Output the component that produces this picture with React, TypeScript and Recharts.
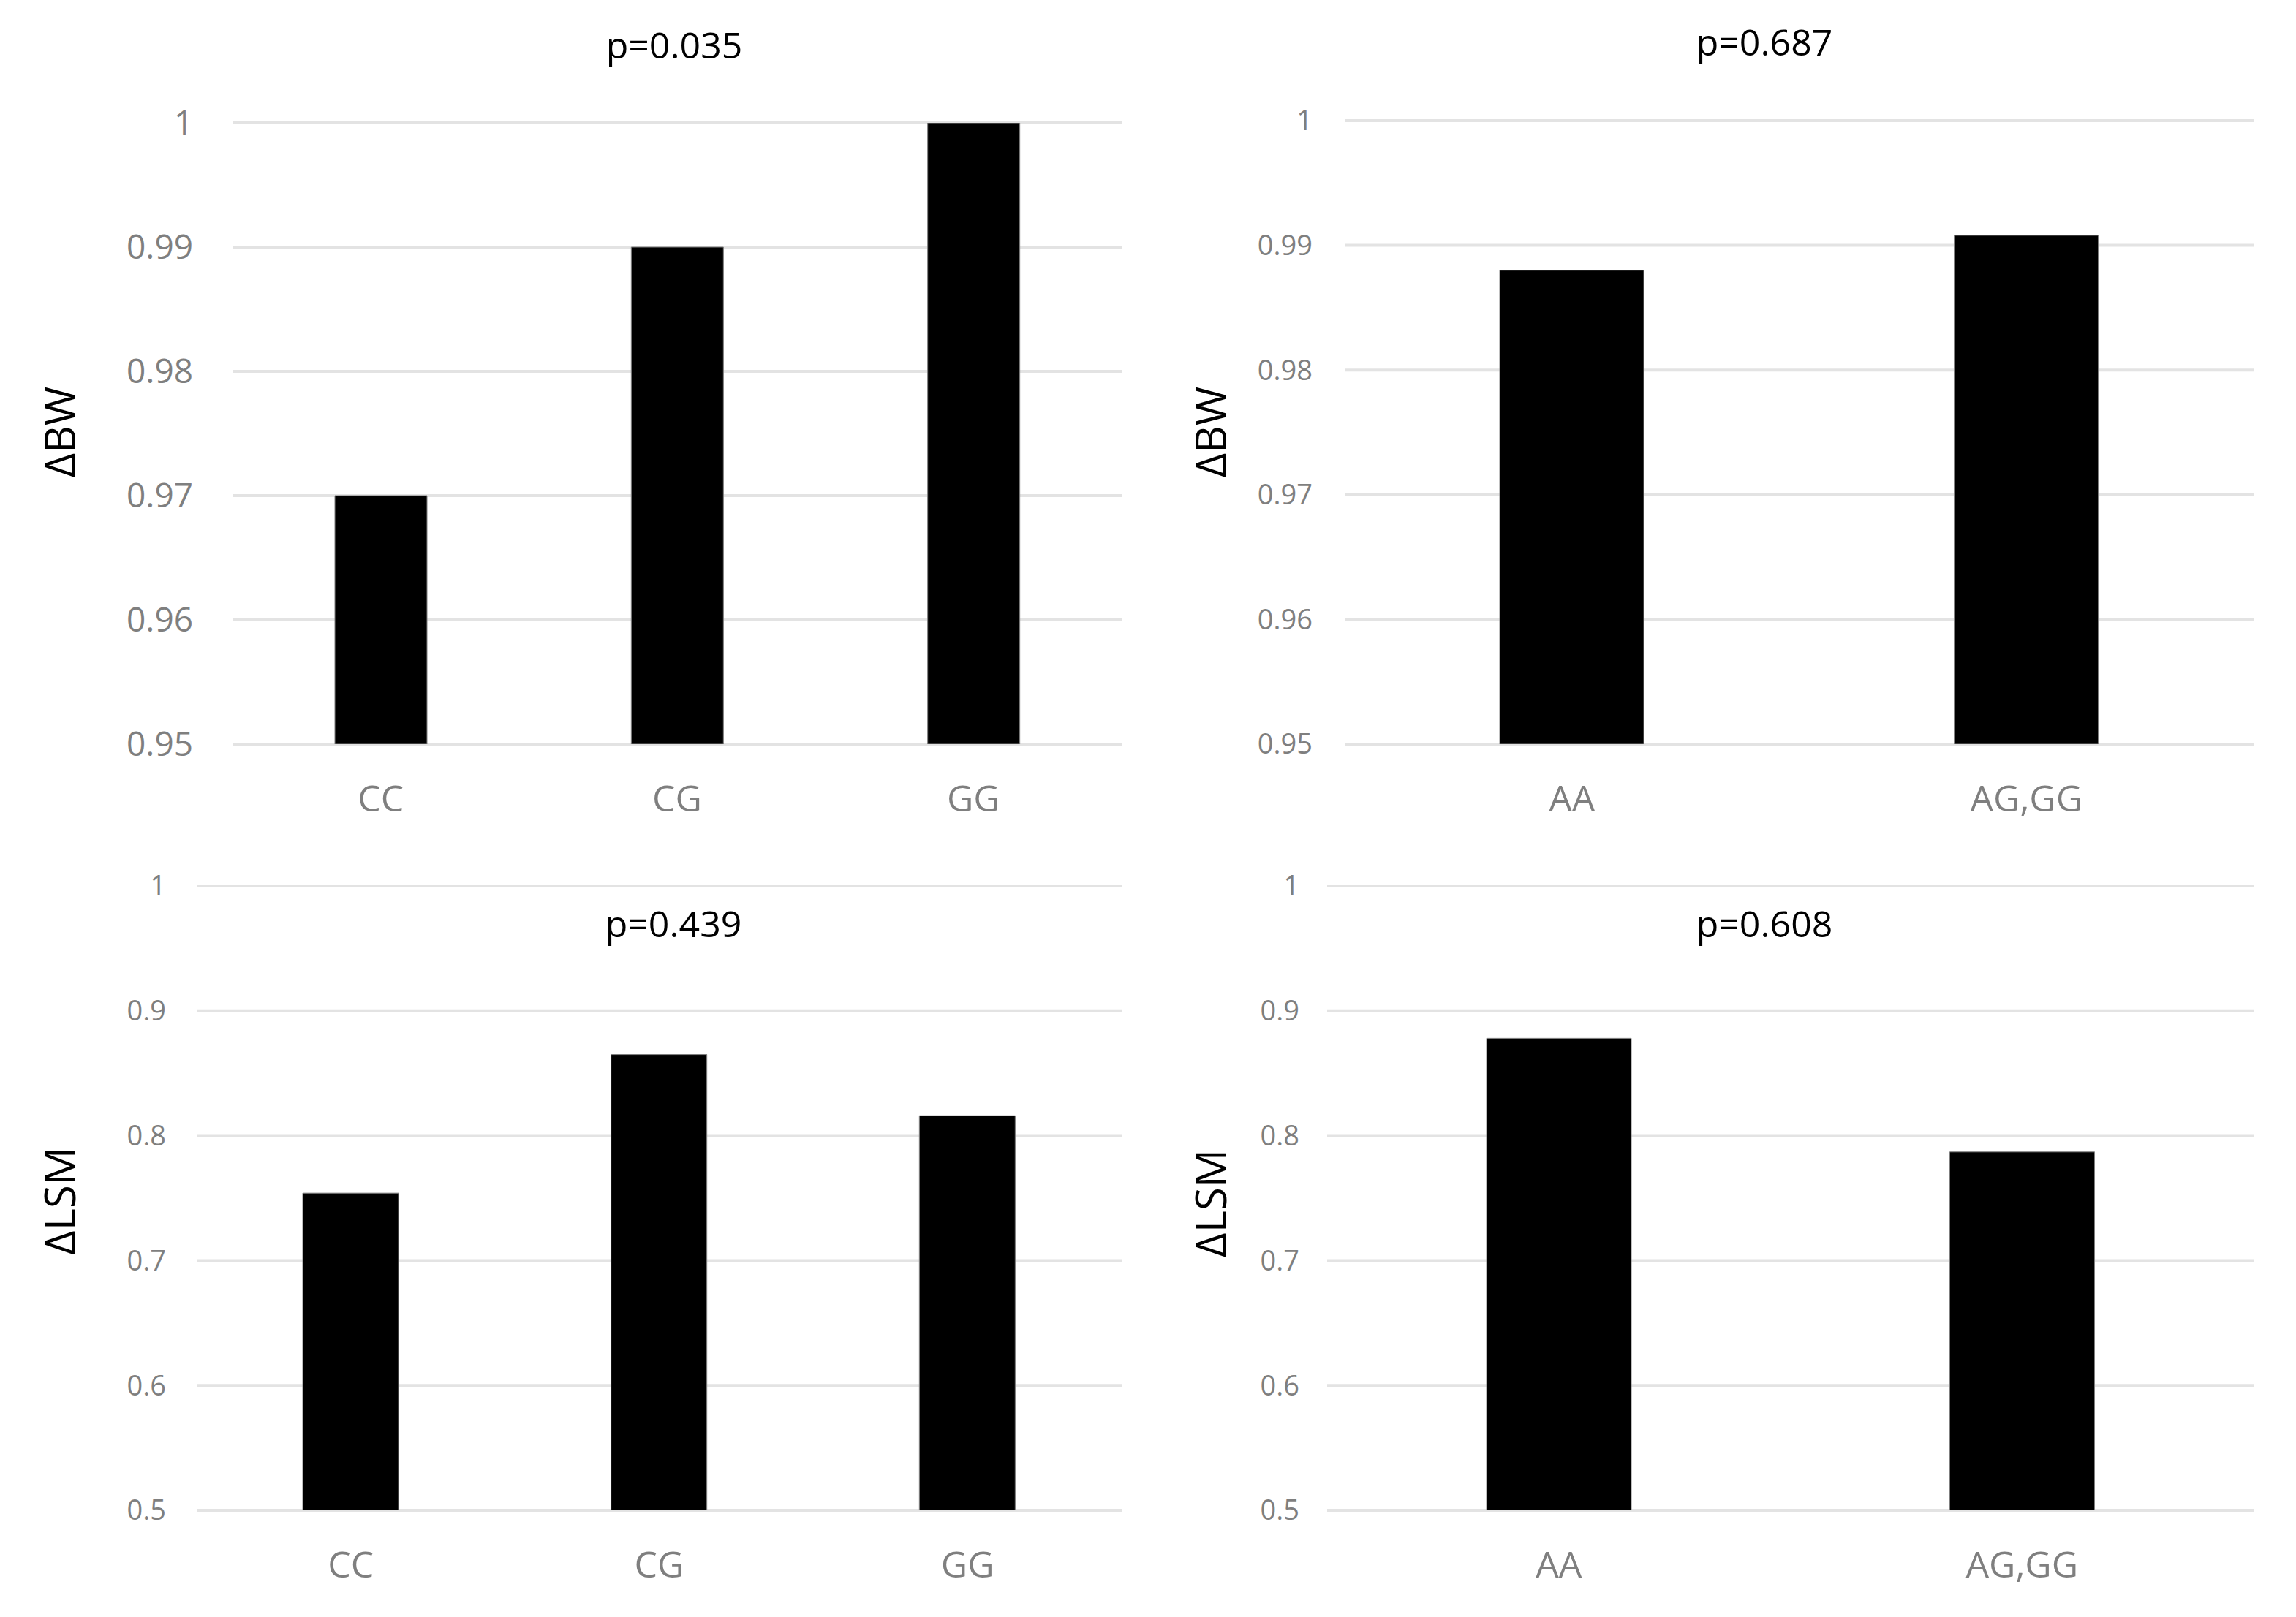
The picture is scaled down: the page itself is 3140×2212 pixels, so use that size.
import React from "react";
import { BarChart, Bar, XAxis, YAxis, CartesianGrid } from "recharts";

const genotypesCG = ["CC", "CG", "GG"];
const genotypesAG = ["AA", "AG,GG"];

const bwValuesCG = [0.97, 0.99, 1.0];
const bwValuesAG = [0.988, 0.9908];
const lsmValuesCG = [0.754, 0.865, 0.816];
const lsmValuesAG = [0.878, 0.787];

const bwTicks = [0.95, 0.96, 0.97, 0.98, 0.99, 1];
const lsmTicks = [0.5, 0.6, 0.7, 0.8, 0.9, 1];

const pLabels = ["p=0.035", "p=0.687", "p=0.439", "p=0.608"];

const FONT = "'Open Sans', sans-serif";
const GRAY = "#7f7f7f";

interface PanelProps {
  left: number;
  top: number;
  width: number;
  height: number;
  categories: string[];
  values: number[];
  ticks: number[];
  yLabel: string;
  plotLeft: number;
  plotRight: number;
  plotTop: number;
  plotBottom: number;
  barSize: number;
  tickFont: number;
  tickGap: number;
  labelX: number;
  labelY: number;
}

function Panel(p: PanelProps) {
  const data = p.categories.map((name, i) => ({ name, value: p.values[i] }));
  const xAxisHeight = 100;
  return (
    <div style={{ position: "absolute", left: p.left, top: p.top }}>
      <BarChart
        width={p.width}
        height={p.height}
        data={data}
        margin={{
          top: p.plotTop,
          right: p.width - p.plotRight,
          left: 0,
          bottom: p.height - p.plotBottom - xAxisHeight,
        }}
      >
        <CartesianGrid vertical={false} stroke="#e3e3e3" strokeWidth={4} />
        <XAxis
          dataKey="name"
          height={xAxisHeight}
          axisLine={false}
          tickLine={false}
          tickSize={0}
          tickMargin={56}
          tick={{ fill: GRAY, fontSize: 50, fontFamily: FONT }}
        />
        <YAxis
          width={p.plotLeft}
          domain={[p.ticks[0], p.ticks[p.ticks.length - 1]]}
          ticks={p.ticks}
          allowDataOverflow
          axisLine={false}
          tickLine={false}
          tickSize={0}
          tickMargin={p.tickGap}
          tick={{ fill: GRAY, fontSize: p.tickFont, fontFamily: FONT }}
          label={() => (
            <text
              x={p.labelX}
              y={p.labelY}
              transform={`rotate(-90 ${p.labelX} ${p.labelY})`}
              textAnchor="middle"
              fontSize={58}
              fontFamily={FONT}
              fill="#000"
            >
              {p.yLabel}
            </text>
          )}
        />
        <Bar
          dataKey="value"
          fill="#000"
          stroke={GRAY}
          strokeWidth={1}
          barSize={p.barSize}
          isAnimationActive={false}
        />
      </BarChart>
    </div>
  );
}

export default function App() {
  const titles = [
    { x: 922, y: 80 },
    { x: 2413, y: 76 },
    { x: 921, y: 1282 },
    { x: 2413, y: 1282 },
  ];
  return (
    <div
      style={{
        position: "absolute",
        left: 0,
        top: 0,
        width: 3140,
        height: 2212,
        background: "#fff",
        fontFamily: FONT,
      }}
    >
      <Panel
        left={0}
        top={0}
        width={1570}
        height={1150}
        categories={genotypesCG}
        values={bwValuesCG}
        ticks={bwTicks}
        yLabel="ΔBW"
        plotLeft={318}
        plotRight={1534}
        plotTop={168}
        plotBottom={1018}
        barSize={126}
        tickFont={46}
        tickGap={54}
        labelX={103}
        labelY={591}
      />
      <Panel
        left={1570}
        top={0}
        width={1570}
        height={1150}
        categories={genotypesAG}
        values={bwValuesAG}
        ticks={bwTicks}
        yLabel="ΔBW"
        plotLeft={269}
        plotRight={1512}
        plotTop={165}
        plotBottom={1018}
        barSize={197}
        tickFont={38}
        tickGap={44}
        labelX={107}
        labelY={591}
      />
      <Panel
        left={0}
        top={1150}
        width={1570}
        height={1062}
        categories={genotypesCG}
        values={lsmValuesCG}
        ticks={lsmTicks}
        yLabel="ΔLSM"
        plotLeft={269}
        plotRight={1534}
        plotTop={62}
        plotBottom={916}
        barSize={131}
        tickFont={38}
        tickGap={42}
        labelX={103}
        labelY={493}
      />
      <Panel
        left={1570}
        top={1150}
        width={1570}
        height={1062}
        categories={genotypesAG}
        values={lsmValuesAG}
        ticks={lsmTicks}
        yLabel="ΔLSM"
        plotLeft={245}
        plotRight={1512}
        plotTop={62}
        plotBottom={916}
        barSize={198}
        tickFont={38}
        tickGap={38}
        labelX={107}
        labelY={496}
      />
      <svg
        width={3140}
        height={2212}
        style={{ position: "absolute", left: 0, top: 0, pointerEvents: "none" }}
      >
        {titles.map((t, i) => (
          <text
            key={pLabels[i]}
            x={t.x}
            y={t.y}
            textAnchor="middle"
            fontSize={50}
            fontFamily={FONT}
            fill="#000"
          >
            {pLabels[i]}
          </text>
        ))}
      </svg>
    </div>
  );
}
